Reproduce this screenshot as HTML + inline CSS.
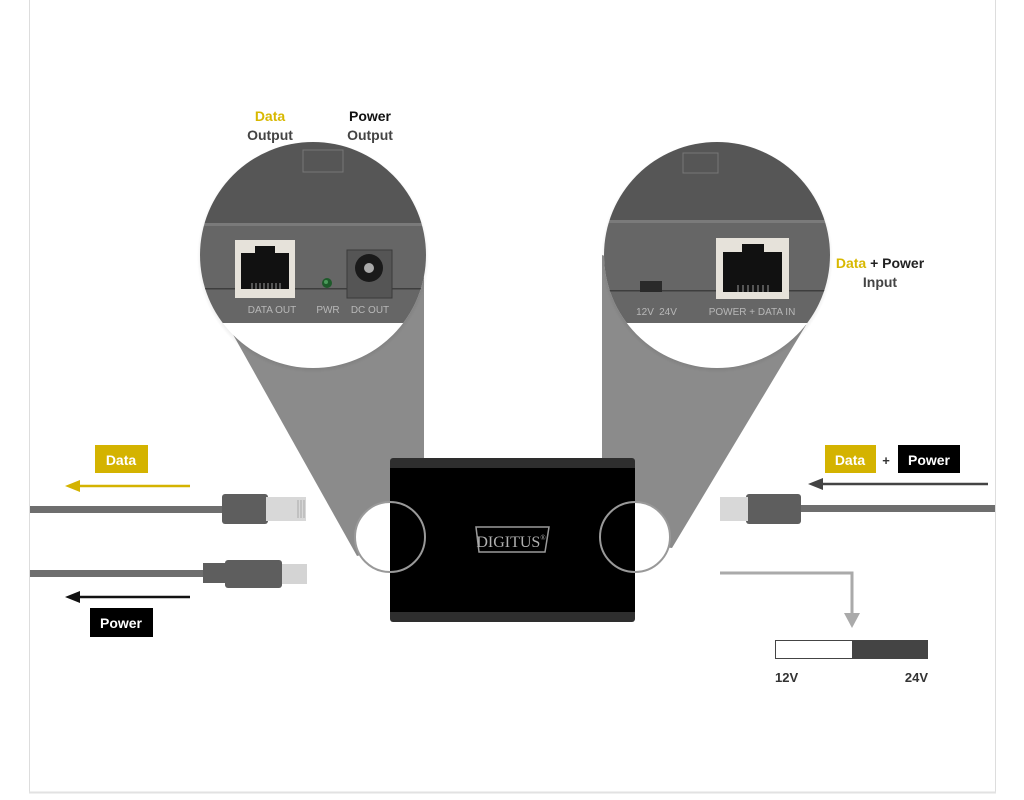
<!DOCTYPE html>
<html><head><meta charset="utf-8"><style>
html,body{margin:0;padding:0;background:#fff;width:1024px;height:800px;overflow:hidden}
svg{display:block}
text{font-family:"Liberation Sans",sans-serif}
text.serif{font-family:"Liberation Serif",serif}
</style></head><body>
<svg width="1024" height="800" viewBox="0 0 1024 800" xmlns="http://www.w3.org/2000/svg">
<defs>
<clipPath id="cL"><circle cx="313" cy="255" r="113"/></clipPath>
<clipPath id="cR"><circle cx="717" cy="255" r="113"/></clipPath>
<radialGradient id="sh" cx="0.5" cy="0.5" r="0.5"><stop offset="0.85" stop-color="#000" stop-opacity="0.25"/><stop offset="1" stop-color="#000" stop-opacity="0"/></radialGradient>
</defs>
<rect width="1024" height="800" fill="#fff"/>
<line x1="29.5" y1="0" x2="29.5" y2="793" stroke="#ddd"/>
<line x1="995.5" y1="0" x2="995.5" y2="793" stroke="#ddd"/>
<line x1="29" y1="792.5" x2="996" y2="792.5" stroke="#e2e2e2" stroke-width="2"/>

<!-- cones -->
<polygon points="226,322 424,255 424,540 357,556" fill="#8b8b8b"/>
<polygon points="602,255 806,325 672,548 602,540" fill="#8b8b8b"/>

<!-- left magnifier -->
<circle cx="313" cy="257" r="116" fill="url(#sh)"/>
<g clip-path="url(#cL)">
<rect x="190" y="130" width="250" height="250" fill="#fff"/>
<rect x="190" y="130" width="250" height="93" fill="#565656"/>
<rect x="190" y="223" width="250" height="3" fill="#7a7a7a"/>
<rect x="190" y="226" width="250" height="97" fill="#666"/>
<rect x="190" y="288" width="250" height="1.5" fill="#3e3e3e"/>
<rect x="303" y="150" width="40" height="22" fill="none" stroke="#777"/>
<rect x="235" y="240" width="60" height="58" fill="#e6e2da"/>
<rect x="241" y="253" width="48" height="36" fill="#111"/>
<rect x="255" y="246" width="20" height="8" fill="#111"/>
<g stroke="#999" stroke-width="1"><line x1="252" y1="283" x2="252" y2="289"/><line x1="256" y1="283" x2="256" y2="289"/><line x1="260" y1="283" x2="260" y2="289"/><line x1="264" y1="283" x2="264" y2="289"/><line x1="268" y1="283" x2="268" y2="289"/><line x1="272" y1="283" x2="272" y2="289"/><line x1="276" y1="283" x2="276" y2="289"/><line x1="280" y1="283" x2="280" y2="289"/></g>
<circle cx="327" cy="283" r="5" fill="#1d5a2a"/><circle cx="326" cy="282" r="2" fill="#4a9a5a"/>
<rect x="347" y="250" width="45" height="48" fill="#555" stroke="#3a3a3a"/>
<circle cx="369" cy="268" r="14" fill="#1a1a1a"/><circle cx="369" cy="268" r="5" fill="#aaa"/>
<text x="272" y="313" font-size="10" fill="#b8b8b8" text-anchor="middle">DATA OUT</text>
<text x="328" y="313" font-size="10" fill="#b8b8b8" text-anchor="middle">PWR</text>
<text x="370" y="313" font-size="10" fill="#b8b8b8" text-anchor="middle">DC OUT</text>
</g>

<!-- right magnifier -->
<circle cx="717" cy="257" r="116" fill="url(#sh)"/>
<g clip-path="url(#cR)">
<rect x="590" y="130" width="260" height="250" fill="#fff"/>
<rect x="590" y="130" width="260" height="90" fill="#565656"/>
<rect x="590" y="220" width="260" height="3" fill="#7a7a7a"/>
<rect x="590" y="223" width="260" height="100" fill="#666"/>
<rect x="590" y="290" width="260" height="1.5" fill="#3e3e3e"/>
<rect x="683" y="153" width="35" height="20" fill="none" stroke="#777"/>
<rect x="640" y="281" width="22" height="11" fill="#2a2a2a"/>
<rect x="716" y="238" width="73" height="61" fill="#e6e2da"/>
<rect x="723" y="252" width="59" height="40" fill="#111"/>
<rect x="742" y="244" width="22" height="9" fill="#111"/>
<g stroke="#999"><line x1="738" y1="285" x2="738" y2="292"/><line x1="743" y1="285" x2="743" y2="292"/><line x1="748" y1="285" x2="748" y2="292"/><line x1="753" y1="285" x2="753" y2="292"/><line x1="758" y1="285" x2="758" y2="292"/><line x1="763" y1="285" x2="763" y2="292"/><line x1="768" y1="285" x2="768" y2="292"/></g>
<text x="645" y="315" font-size="10" fill="#b8b8b8" text-anchor="middle">12V</text>
<text x="668" y="315" font-size="10" fill="#b8b8b8" text-anchor="middle">24V</text>
<text x="752" y="315" font-size="10" fill="#b8b8b8" text-anchor="middle">POWER + DATA IN</text>
</g>

<!-- top labels -->
<text x="270" y="121" font-size="14" font-weight="bold" fill="#d8b800" text-anchor="middle">Data</text>
<text x="270" y="140" font-size="14" font-weight="bold" fill="#444" text-anchor="middle">Output</text>
<text x="370" y="121" font-size="14" font-weight="bold" fill="#111" text-anchor="middle">Power</text>
<text x="370" y="140" font-size="14" font-weight="bold" fill="#444" text-anchor="middle">Output</text>
<text x="880" y="268" font-size="14" font-weight="bold" text-anchor="middle"><tspan fill="#d8b800">Data</tspan><tspan fill="#222"> + Power</tspan></text>
<text x="880" y="287" font-size="14" font-weight="bold" fill="#444" text-anchor="middle">Input</text>

<!-- device -->
<rect x="390" y="458" width="245" height="164" rx="3" fill="#2e2e2e"/>
<rect x="390" y="468" width="245" height="144" fill="#000"/>
<polygon points="476,527 549,527 545,552 479,552" fill="none" stroke="#9a9a9a" stroke-width="1.5"/>
<text class="serif" x="511" y="547" font-size="16" fill="#b0b0b0" text-anchor="middle">DIGITUS<tspan font-size="7" dy="-7">®</tspan></text>

<!-- small circles -->
<path d="M390,502 A35,35 0 0 0 390,572 Z" fill="#fff"/>
<circle cx="390" cy="537" r="35" fill="none" stroke="#999" stroke-width="2"/>
<path d="M635,502 A35,35 0 0 1 635,572 Z" fill="#fff"/>
<circle cx="635" cy="537" r="35" fill="none" stroke="#999" stroke-width="2"/>

<!-- left cables -->
<rect x="95" y="445" width="53" height="28" fill="#d4b300"/>
<text x="121" y="465" font-size="14" font-weight="bold" fill="#fff" text-anchor="middle">Data</text>
<line x1="76" y1="486" x2="190" y2="486" stroke="#d4b300" stroke-width="2.5"/>
<polygon points="65,486 80,480 80,492" fill="#d4b300"/>
<rect x="30" y="506" width="195" height="7" fill="#6e6e6e"/>
<rect x="222" y="494" width="46" height="30" rx="3" fill="#5e5e5e"/>
<rect x="266" y="497" width="40" height="24" fill="#d8d8d8"/>
<g stroke="#aaa"><line x1="298" y1="500" x2="298" y2="518"/><line x1="301" y1="500" x2="301" y2="518"/><line x1="304" y1="500" x2="304" y2="518"/></g>
<rect x="30" y="570" width="175" height="7" fill="#6e6e6e"/>
<rect x="203" y="563" width="24" height="20" fill="#5e5e5e"/>
<rect x="225" y="560" width="57" height="28" rx="3" fill="#5e5e5e"/>
<rect x="282" y="564" width="25" height="20" fill="#d4d4d4"/>
<line x1="76" y1="597" x2="190" y2="597" stroke="#111" stroke-width="2.5"/>
<polygon points="65,597 80,591 80,603" fill="#111"/>
<rect x="90" y="608" width="63" height="29" fill="#000"/>
<text x="121" y="628" font-size="14" font-weight="bold" fill="#fff" text-anchor="middle">Power</text>

<!-- right cables -->
<rect x="825" y="445" width="51" height="28" fill="#d4b300"/>
<text x="850" y="465" font-size="14" font-weight="bold" fill="#fff" text-anchor="middle">Data</text>
<text x="886" y="465" font-size="13" font-weight="bold" fill="#333" text-anchor="middle">+</text>
<rect x="898" y="445" width="62" height="28" fill="#000"/>
<text x="929" y="465" font-size="14" font-weight="bold" fill="#fff" text-anchor="middle">Power</text>
<line x1="820" y1="484" x2="988" y2="484" stroke="#444" stroke-width="2.5"/>
<polygon points="808,484 823,478 823,490" fill="#444"/>
<rect x="795" y="505" width="200" height="7" fill="#6e6e6e"/>
<rect x="746" y="494" width="55" height="30" rx="3" fill="#5e5e5e"/>
<rect x="720" y="497" width="28" height="24" fill="#d8d8d8"/>
<polyline points="720,573 852,573 852,616" fill="none" stroke="#aaa" stroke-width="3"/>
<polygon points="844,613 860,613 852,628" fill="#aaa"/>
<rect x="775.5" y="640.5" width="77" height="18" fill="#fff" stroke="#444"/>
<rect x="852" y="640" width="76" height="19" fill="#444"/>
<text x="775" y="682" font-size="13" font-weight="bold" fill="#333">12V</text>
<text x="928" y="682" font-size="13" font-weight="bold" fill="#333" text-anchor="end">24V</text>
</svg>
</body></html>
